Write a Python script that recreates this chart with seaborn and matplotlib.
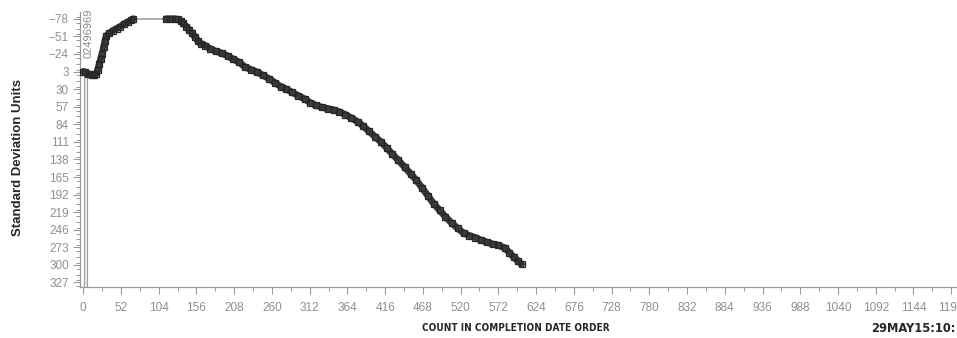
import matplotlib
matplotlib.use("Agg")
import matplotlib.pyplot as plt
from matplotlib.ticker import MultipleLocator
import seaborn as sns
import pandas as pd

# run before the gap in the record
early_count = [0, 3, 6, 9, 12, 15, 18, 20, 22, 24, 26, 28, 30, 32, 36, 41, 46, 51, 56, 61, 66, 69]
early_sd = [3, 4, 6, 7, 8, 9, 6, 0, -8, -16, -24, -34, -44, -52, -56, -60, -63, -66, -70, -73, -76, -78]

# run after the gap
late_count = [114, 120, 126, 130, 134, 138, 142, 146, 150, 154, 158, 162, 168, 175, 183, 191,
              199, 207, 215, 223, 231, 240, 248, 256, 264, 272, 280, 288, 296, 305, 313, 321,
              329, 337, 345, 353, 361, 369, 378, 386, 394, 402, 410, 418, 426, 434, 443, 451,
              459, 467, 475, 483, 491, 499, 508, 516, 524, 532, 540, 548, 556, 564, 572, 581,
              587, 593, 599, 604]
late_sd = [-78, -78, -78, -77, -75, -71, -66, -61, -56, -50, -44, -40, -37, -32, -28, -25,
           -21, -16, -11, -4, 0, 4, 9, 14, 20, 26, 30, 35, 40, 45, 51, 55,
           58, 60, 62, 65, 69, 74, 80, 87, 95, 103, 111, 120, 130, 139, 150, 160,
           170, 182, 194, 206, 216, 226, 236, 244, 251, 255, 258, 262, 265, 268, 270, 274,
           281, 288, 294, 299]

# first observation drawn as a needle
needle_count = [3]
needle_top = [3]
needle_bottom = [334]

x_ticks = list(range(0, 1197, 52))
y_ticks = list(range(-78, 328, 27))
id_text = "02496969"
x_title = "COUNT IN COMPLETION DATE ORDER"
y_title = "Standard Deviation Units"
stamp = "29MAY15:10:"

sns.set_style("white")
plt.rcParams['font.family'] = ['Liberation Sans', 'DejaVu Sans']

fig = plt.figure(figsize=(9.57, 3.38), dpi=100)
ax = fig.add_axes([80 / 957, 51 / 338, 877 / 957, 275 / 338])

# needle
heights = [b - t for b, t in zip(needle_bottom, needle_top)]
ax.bar(needle_count, heights, bottom=needle_top, width=5, color='#e8e8e8',
       edgecolor='#a0a0a0', linewidth=0.8, zorder=1)

# gap connector
ax.plot([early_count[-1], late_count[0]], [early_sd[-1], late_sd[0]],
        color='#a8a8a8', lw=1.3, zorder=2)

for cnt, sd in [(early_count, early_sd), (late_count, late_sd)]:
    df = pd.DataFrame({'count': cnt, 'sd': sd})
    sns.lineplot(data=df, x='count', y='sd', ax=ax, sort=False, color='#3a3a3a',
                 linewidth=5, marker='s', markersize=4.5, markerfacecolor='none',
                 markeredgecolor='#262626', markeredgewidth=0.9, zorder=3)

ax.text(8, -56, id_text, rotation=90, fontsize=8, color='#888888',
        ha='center', va='center', clip_on=False)

ax.set_xlim(-4.5, 1204)
ax.set_ylim(334, -88.5)
ax.set_xticks(x_ticks)
ax.set_yticks(y_ticks)
ax.xaxis.set_minor_locator(MultipleLocator(26))
ax.yaxis.set_minor_locator(MultipleLocator(9))
ax.tick_params(axis='both', which='major', direction='out', length=5, width=0.8,
               color='#999999', labelcolor='#8f8f8f', labelsize=8.5,
               bottom=True, left=True)
ax.tick_params(axis='both', which='minor', direction='out', length=3, width=0.7,
               color='#999999', bottom=True, left=True)
ax.tick_params(axis='x', pad=6)
ax.tick_params(axis='y', pad=3)
ax.set_xlabel('')
ax.set_ylabel('')

for side in ['top', 'right']:
    ax.spines[side].set_visible(False)
for side in ['left', 'bottom']:
    ax.spines[side].set_color('#999999')
    ax.spines[side].set_linewidth(0.9)

fig.text(18 / 957, 1 - 157 / 338, y_title, rotation=90, ha='center', va='center',
         fontsize=9.5, fontweight='bold')
fig.text(516 / 957, 1 - 328 / 338, x_title, ha='center', va='center',
         fontsize=7.2, fontweight='bold', family=['DejaVu Sans'], fontstretch='condensed')
fig.text(956 / 957, 1 - 328 / 338, stamp, ha='right', va='center',
         fontsize=9.2, fontweight='bold', family=['DejaVu Sans'], fontstretch='condensed')

fig.savefig('out.png', dpi=100)
